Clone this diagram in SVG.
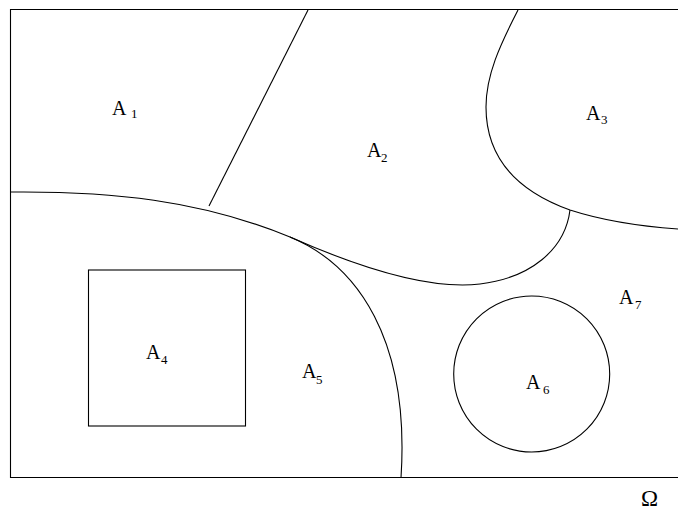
<svg xmlns="http://www.w3.org/2000/svg" width="678" height="510" viewBox="0 0 678 510">
<style>
.ln{fill:none;stroke:#000;stroke-width:1.1}
.lb{font-family:"Liberation Serif","Times New Roman",serif;font-size:20px;fill:#000}
.sb{font-family:"Liberation Serif","Times New Roman",serif;font-size:13px;fill:#000}
.om{font-family:"Liberation Serif","Times New Roman",serif;font-size:23px;fill:#000}
</style>
<rect width="678" height="510" fill="#fff"/>
<g id="connectors">
<path class="ln" d="M678,9.5 H10.5 V477.5 H678"/>
<path class="ln" d="M308,10 L209,206"/>
<path class="ln" d="M10.5,192 C110,191 200,200 290,237 C358,265 410,340 401,478"/>
<path class="ln" d="M290,237 C360,268 430,290 480,284 C530,278 565,250 570,210"/>
<path class="ln" d="M518,10 C500,45 486,75 486,107 C486,160 520,192 570,210 C610,223 650,227 678,229"/>
</g>
<g id="A1"><text class="lb" x="112" y="115">A</text><text class="sb" x="131" y="117.5">1</text></g>
<g id="A2"><text class="lb" x="367" y="157">A</text><text class="sb" x="381" y="162">2</text></g>
<g id="A3"><text class="lb" x="586" y="120">A</text><text class="sb" x="601" y="124">3</text></g>
<g id="A4"><rect class="ln" x="88.5" y="270" width="157" height="156"/><text class="lb" x="146" y="359">A</text><text class="sb" x="161" y="364">4</text></g>
<g id="A5"><text class="lb" x="302" y="378">A</text><text class="sb" x="316" y="384">5</text></g>
<g id="A6"><circle class="ln" cx="531.7" cy="374" r="78"/><text class="lb" x="526" y="389">A</text><text class="sb" x="543" y="394">6</text></g>
<g id="A7"><text class="lb" x="619" y="304">A</text><text class="sb" x="635" y="309">7</text></g>
<g id="Omega"><text class="om" x="641" y="506">Ω</text></g>
</svg>
